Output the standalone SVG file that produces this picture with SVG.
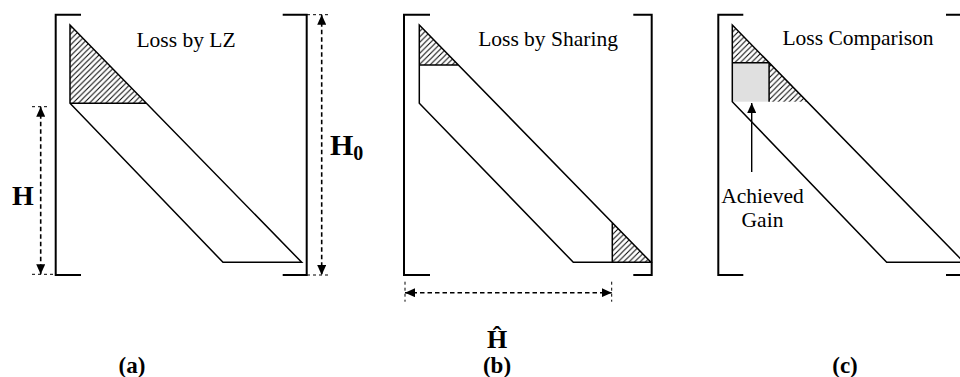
<svg xmlns="http://www.w3.org/2000/svg" width="960" height="377" viewBox="0 0 960 377">
<defs>
<pattern id="hatch" patternUnits="userSpaceOnUse" width="5.5" height="5.5">
<path d="M-1,1 L1,-1 M0,5.5 L5.5,0 M4.5,6.5 L6.5,4.5" stroke="#000" stroke-width="1"/>
</pattern>
<marker id="ah" markerUnits="userSpaceOnUse" markerWidth="11" markerHeight="9" refX="10" refY="4.5" orient="auto-start-reverse">
<path d="M0,0 L10,4.5 L0,9 Z" fill="#000"/>
</marker>
</defs>
<style>
.br{fill:none;stroke:#000;stroke-width:2}
.ol{fill:none;stroke:#000;stroke-width:1.5;stroke-linejoin:miter}
.ht{fill:url(#hatch);stroke:none}
.dim{fill:none;stroke:#000;stroke-width:1.6;stroke-dasharray:4.5,3}
.ext{fill:none;stroke:#000;stroke-width:1;stroke-dasharray:3,3}
.t{font-family:"Liberation Serif","Times New Roman",serif;font-size:21.5px;fill:#000}
.b{font-family:"Liberation Serif","Times New Roman",serif;font-weight:bold;fill:#000}
</style>
<g id="panel-a">
<path class="br" d="M81,14.7 H55.7 V275 H81"/>
<path class="br" d="M282.7,14.7 H306.7 V275 H282.7"/>
<polygon class="ht" points="70,25 70,103.3 146.5,103.3"/>
<path class="ol" d="M70,25 L301.7,262.3 L223,262.3 L70,103.3 Z M70,103.3 H146.5"/>
<text class="t" x="186" y="47" text-anchor="middle">Loss by LZ</text>
</g>
<g id="panel-b">
<path class="br" d="M430,14.7 H404 V275 H430"/>
<path class="br" d="M633.3,14.7 H651.7 V275 H633.3"/>
<polygon class="ht" points="419.3,25 419.3,65 458.4,65"/>
<polygon class="ht" points="612.3,222.6 612.3,262.3 651,262.3"/>
<path class="ol" d="M419.3,25 L651,262.3 L573.3,262.3 L419.3,103.3 Z M419.3,65 H458.4 M612.3,222.6 V262.3"/>
<text class="t" x="548" y="46" text-anchor="middle">Loss by Sharing</text>
</g>
<g id="panel-c">
<path class="br" d="M743.3,14.7 H718.3 V275 H743.3"/>
<path class="br" d="M946,14.7 H962 V275 H946"/>
<polygon class="ht" points="732.3,25 732.3,62.7 769.1,62.7"/>
<rect x="732.3" y="62.7" width="36.8" height="39" fill="#e0e0e0"/>
<polygon class="ht" points="769.1,62.7 769.1,101.7 807.2,101.7"/>
<path class="ol" d="M732.3,25 L964,262.3 L886.7,262.3 L732.3,101.7 Z M732.3,62.7 H769.1 V101.7"/>
<text class="t" x="858" y="45" text-anchor="middle">Loss Comparison</text>
<text class="t" x="762.5" y="203.3" text-anchor="middle">Achieved</text>
<text class="t" x="762.5" y="226.7" text-anchor="middle">Gain</text>
</g>
<g id="connectors">
<path class="ext" d="M32,106.7 H50 M32,274.3 H55"/>
<line class="dim" x1="40.7" y1="106.7" x2="40.7" y2="274.3" marker-start="url(#ah)" marker-end="url(#ah)"/>
<path class="ext" d="M307,14.7 H330 M307,275 H330"/>
<line class="dim" x1="321.7" y1="14.7" x2="321.7" y2="275" marker-start="url(#ah)" marker-end="url(#ah)"/>
<path class="ext" d="M405,281.7 V301.7 M611.7,281.7 V301.7"/>
<line class="dim" x1="405" y1="292.7" x2="611.7" y2="292.7" marker-start="url(#ah)" marker-end="url(#ah)"/>
<line x1="751.7" y1="172" x2="751.7" y2="103" stroke="#000" stroke-width="1.4" marker-end="url(#ah)"/>
</g>
<g id="labels">
<text class="b" x="12" y="205" font-size="28">H</text>
<text class="b" x="330" y="155" font-size="30">H<tspan font-size="20" dy="5">0</tspan></text>
<text class="b" x="497" y="348" font-size="26" text-anchor="middle">Ĥ</text>
<text class="b" x="132" y="373" font-size="23" text-anchor="middle">(a)</text>
<text class="b" x="497" y="373" font-size="23" text-anchor="middle">(b)</text>
<text class="b" x="845" y="373" font-size="23" text-anchor="middle">(c)</text>
</g>
</svg>
